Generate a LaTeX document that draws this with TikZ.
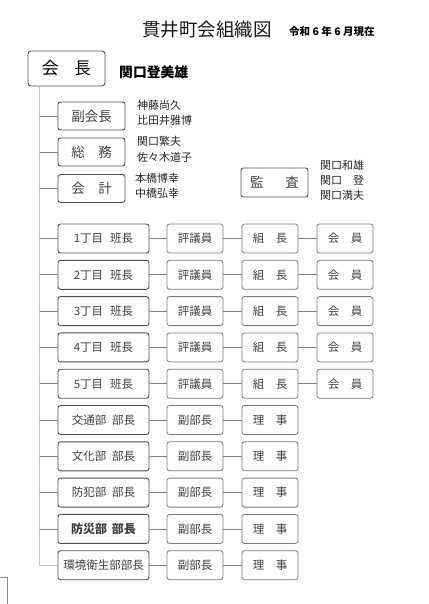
\documentclass[tikz,border=0pt]{standalone}
\usepackage{fontspec}
\setmainfont{Noto Sans CJK JP}
\definecolor{txt}{HTML}{404040}
\definecolor{bdark}{HTML}{505050}
\definecolor{blight}{HTML}{7A7A7A}
\definecolor{conn}{HTML}{808080}
\definecolor{trunk}{HTML}{C4C4C4}
\tikzset{
  headbox/.style={draw=bdark, line width=0.9pt, rounded corners=2.5pt, inner sep=0pt, text=txt,
    minimum height=29pt, font=\fontsize{11.5pt}{13pt}\selectfont},
  subbox/.style={draw=blight, line width=0.8pt, rounded corners=2.5pt, inner sep=0pt, text=txt,
    minimum width=56pt, minimum height=29pt, font=\fontsize{11.5pt}{13pt}\selectfont},
  officebox/.style={headbox, minimum width=67pt, minimum height=28pt, font=\fontsize{13.5pt}{15pt}\selectfont},
  rowbox/.style={headbox, minimum width=91pt},
  names/.style={anchor=north west, align=left, inner sep=0pt, text=black!85,
    font=\fontsize{11pt}{15.5pt}\selectfont},
  link/.style={draw=conn, line width=0.8pt},
}
\begin{document}
\begin{tikzpicture}[x=1pt,y=-1pt]
\useasboundingbox (0,0) rectangle (428,604);
% title
\node[inner sep=0pt, font=\fontsize{18.5pt}{20pt}\selectfont, text=black!90] (title) at (207,30) {貫井町会組織図};
\node[anchor=west, inner sep=0pt, font=\fontsize{10.5pt}{12pt}\selectfont\bfseries] (date) at (289,32) {令和 6 年 6 月現在};
% president
\node[draw=bdark, line width=0.9pt, rounded corners=3pt, minimum width=77pt, minimum height=35pt, inner sep=0pt,
  font=\fontsize{17pt}{19pt}\selectfont] (kaicho) at (66.5,68.5) {会\hspace{0.9em}長};
\node[anchor=west, inner sep=0pt, font=\fontsize{13.8pt}{15pt}\selectfont\bfseries] (kname) at (119,72) {関口登美雄};
% officers
\node[officebox] (fuku) at (91.5,116) {副会長};
\node[officebox] (somu) at (91.5,152) {総\hspace{1em}務};
\node[officebox] (kaikei) at (91.5,188.5) {会\hspace{1em}計};
\node[names] (n1) at (137,100) {神藤尚久\\比田井雅博};
\node[names] (n2) at (137,136.5) {関口繁夫\\佐々木道子};
\node[names] (n3) at (135,173) {本橋博幸\\中橋弘幸};
\node[officebox, minimum height=29pt] (kansa) at (274.5,182.5) {監\hspace{1.6em}査};
\node[names, font=\fontsize{11pt}{15pt}\selectfont] (n4) at (320,160.5) {関口和雄\\関口\hspace{1em}登\\関口満夫};
% trunk
\coordinate (ttop) at ([xshift=-27pt]kaicho.south);
% rows with four columns
\foreach \i/\lab in {1/1丁目\hspace{0.6em}班長,2/2丁目\hspace{0.6em}班長,3/3丁目\hspace{0.6em}班長,4/4丁目\hspace{0.6em}班長,5/5丁目\hspace{0.6em}班長}{
  \pgfmathsetmacro\yy{238.5+36.3*(\i-1)}
  \node[rowbox] (h\i) at (103.5,\yy) {\lab};
  \node[subbox] (a\i) at (195,\yy) {評議員};
  \node[subbox] (b\i) at (270,\yy) {組\hspace{1em}長};
  \node[subbox] (c\i) at (345,\yy) {会\hspace{1em}員};
  \draw[link] (h\i) -- (a\i);
  \draw[link] (a\i) -- (b\i);
  \draw[link] (b\i) -- (c\i);
}
% rows with three columns
\foreach \i/\lab in {6/交通部\hspace{0.5em}部長,7/文化部\hspace{0.5em}部長,8/防犯部\hspace{0.5em}部長,9/{\fontsize{12pt}{14pt}\selectfont\bfseries 防災部\hspace{0.4em}部長},10/環境衛生部部長}{
  \pgfmathsetmacro\yy{238.5+36.3*(\i-1)}
  \node[rowbox] (h\i) at (103.5,\yy) {\lab};
  \node[subbox] (a\i) at (195,\yy) {副部長};
  \node[subbox] (b\i) at (270,\yy) {理\hspace{1em}事};
  \draw[link] (h\i) -- (a\i);
  \draw[link] (a\i) -- (b\i);
}
\draw[draw=trunk, line width=1.4pt] (ttop) |- (h10.west);
\foreach \n in {fuku,somu,kaikei,h1,h2,h3,h4,h5,h6,h7,h8,h9}{
  \draw[link] (ttop |- \n.west) -- (\n.west);
}
% page corner mark
\coordinate (cm1) at (0,577);
\coordinate (cm2) at (7,577);
\coordinate (cm3) at (7,604);
\draw[draw=black!45, line width=0.5pt] (cm1) -- (cm2) -- (cm3);
\end{tikzpicture}
\end{document}
